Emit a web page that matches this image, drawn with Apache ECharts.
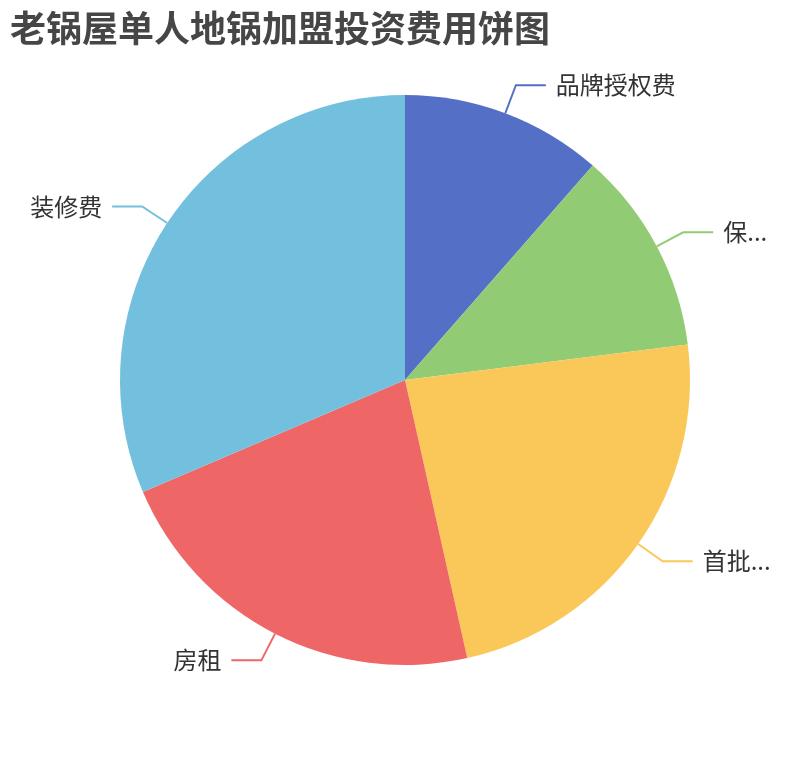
<!DOCTYPE html>
<html>
<head>
<meta charset="utf-8">
<script src="https://cdn.jsdelivr.net/npm/echarts@6/dist/echarts.min.js"></script>
<style>
html,body{margin:0;padding:0;background:#fff;}
#main{width:810px;height:760px;}
</style>
</head>
<body>
<div id="main"></div>
<script>
const titleText = '老锅屋单人地锅加盟投资费用饼图';
const categories = ['品牌授权费', '保证金', '首批进货费', '房租', '装修费'];
const values = [4.9, 4.95, 10.05, 9.45, 13.45];
const colors = ['#5470c6', '#91cc75', '#fac858', '#ee6666', '#73c0de'];

const chart = echarts.init(document.getElementById('main'));
chart.setOption({
  animation: false,
  color: colors,
  title: {
    text: titleText,
    left: 0,
    top: 0,
    padding: 10,
    textStyle: {
      fontSize: 36,
      fontWeight: 'bold',
      color: '#464646',
      fontFamily: 'Noto Sans CJK SC'
    }
  },
  series: [{
    type: 'pie',
    radius: '75%',
    center: ['50%', '50%'],
    data: categories.map((n, i) => ({ name: n, value: values[i] })),
    label: {
      fontSize: 24,
      color: '#333',
      fontFamily: 'Noto Sans CJK SC',
      bleedMargin: 20,
      distanceToLabelLine: 10
    },
    labelLine: {
      length: 30,
      length2: 30,
      lineStyle: { width: 2 }
    },
    itemStyle: { borderWidth: 0 }
  }]
});
</script>
</body>
</html>
